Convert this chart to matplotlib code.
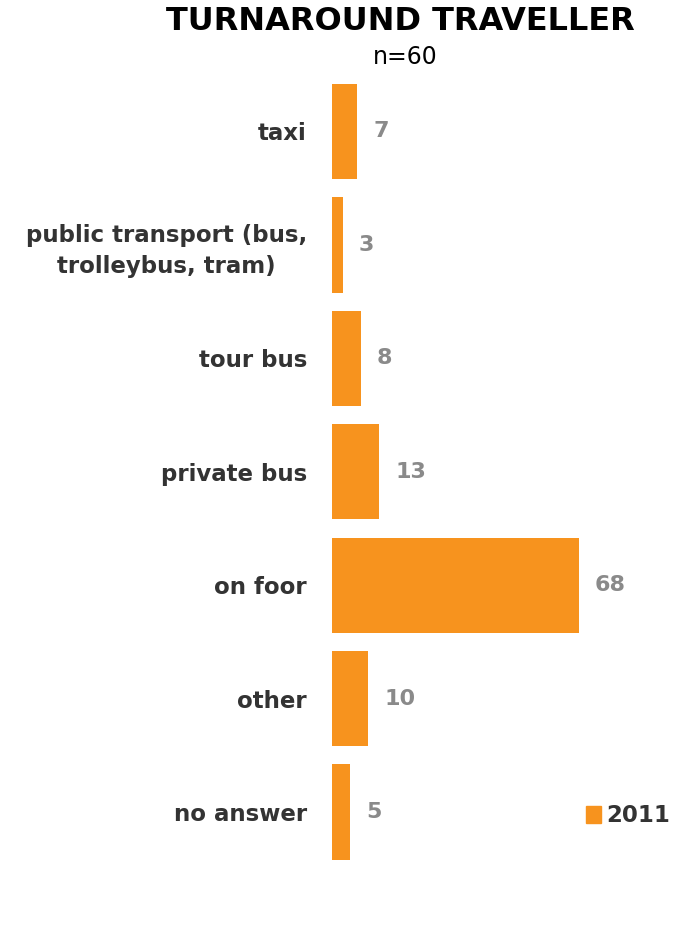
import matplotlib.pyplot as plt
from matplotlib.patches import Rectangle

categories = ["taxi", "public transport (bus,\ntrolleybus, tram)", "tour bus",
              "private bus", "on foor", "other", "no answer"]
values = [7, 3, 8, 13, 68, 10, 5]
series_name = "2011"

ORANGE = "#F7931E"

fig = plt.figure(figsize=(6.78, 9.38), dpi=100)
ax = fig.add_axes([332 / 678, 0.0739, 328 / 678, 0.8464])

pos = list(range(len(categories)))
ax.barh(pos, values, height=0.84, color=ORANGE)
ax.set_ylim(len(categories) - 0.5, -0.5)
ax.set_xlim(0, 328 / 3.63)

for p, v in zip(pos, values):
    ax.text(v + 4.4, p, str(v), va="center", ha="left", fontsize=16,
            fontweight="bold", color="#8a8a8a")

ax.set_yticks(pos)
ax.set_yticklabels(categories, fontsize=16.5, fontweight="bold", color="#333333",
                   multialignment="center", linespacing=1.45)
ax.tick_params(axis="y", length=0, pad=18)
ax.set_xticks([])
for s in ax.spines.values():
    s.set_visible(False)

fig.text(400 / 678, 1 - 21 / 938, "TURNAROUND TRAVELLER", ha="center", va="center",
         fontsize=23, fontweight="bold", color="black")
fig.text(405 / 678, 1 - 57 / 938, "n=60", ha="center", va="center", fontsize=17,
         color="black")

# legend
fig.patches.append(Rectangle((586 / 678, 1 - 823 / 938), 15 / 678, 17 / 938,
                             transform=fig.transFigure, color=ORANGE))
fig.text(606 / 678, 1 - 815 / 938, series_name, ha="left", va="center",
         fontsize=16.5, fontweight="bold", color="#333333")

fig.savefig("out.png", dpi=100)
